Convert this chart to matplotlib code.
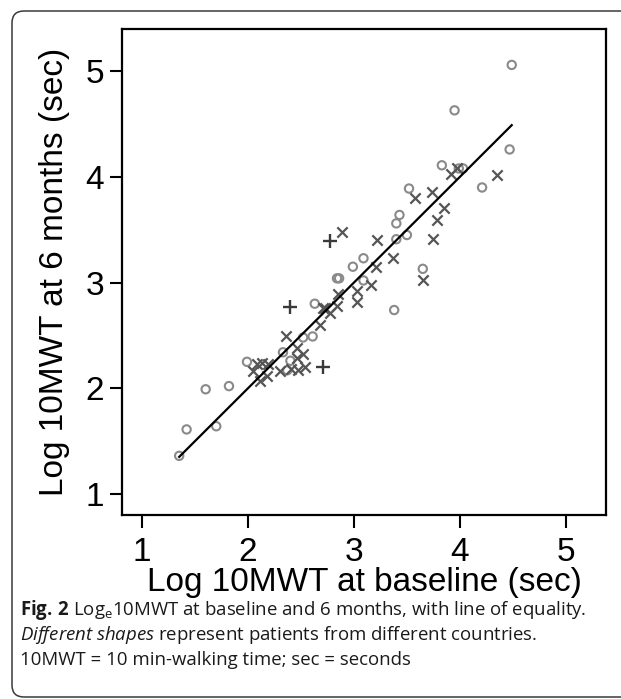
import numpy as np
import matplotlib
matplotlib.use("Agg")
import matplotlib.pyplot as plt
from matplotlib.patches import FancyBboxPatch

# Patients by country (three marker shapes), loge 10MWT baseline vs 6 months
circ_x = [1.35, 1.42, 1.70, 1.60, 1.82, 1.99, 2.33, 2.40, 2.37, 2.52, 2.61, 2.63,
          2.84, 2.86, 2.99, 3.09, 3.09, 3.38, 3.40, 3.40, 3.43, 3.50, 3.52, 3.65,
          3.83, 3.95, 3.99, 4.03, 4.21, 4.47, 4.49]
circ_y = [1.36, 1.61, 1.64, 1.99, 2.02, 2.25, 2.34, 2.26, 2.17, 2.48, 2.49, 2.80,
          3.04, 3.04, 3.15, 3.23, 3.02, 2.74, 3.41, 3.56, 3.64, 3.45, 3.89, 3.13,
          4.11, 4.63, 4.08, 4.08, 3.90, 4.26, 5.06]

cross_x = [2.05, 2.08, 2.13, 2.19, 2.11, 2.18, 2.30, 2.41, 2.47, 2.54, 2.46, 2.46,
           2.36, 2.52, 2.68, 2.71, 2.77, 2.84, 2.73, 2.85, 3.03, 3.03, 3.16, 2.89,
           3.21, 3.22, 3.37, 3.65, 3.75, 3.78, 3.85, 3.58, 3.74, 3.92, 3.97, 4.35]
cross_y = [2.16, 2.23, 2.24, 2.23, 2.07, 2.12, 2.16, 2.18, 2.17, 2.20, 2.29, 2.38,
           2.49, 2.32, 2.60, 2.76, 2.71, 2.78, 2.76, 2.89, 2.82, 2.92, 2.98, 3.48,
           3.15, 3.40, 3.23, 3.02, 3.41, 3.59, 3.71, 3.80, 3.86, 4.03, 4.08, 4.02]

plus_x = [2.40, 2.71, 2.77]
plus_y = [2.77, 2.20, 3.39]

ticks = [1, 2, 3, 4, 5]

plt.rcParams['mathtext.fontset'] = 'custom'
plt.rcParams['mathtext.rm'] = 'Open Sans'
plt.rcParams['mathtext.it'] = 'Open Sans:italic'
plt.rcParams['mathtext.bf'] = 'Open Sans:bold'

fig = plt.figure(figsize=(6.21, 6.99), dpi=100)
ax = fig.add_axes([122 / 621, 1 - 515 / 699, 484 / 621, 486 / 699])

ax.scatter(circ_x, circ_y, s=36, marker='o', facecolors='none',
           edgecolors='#8a8a8a', linewidths=1.5, zorder=3)
ax.scatter(cross_x, cross_y, s=55, marker='x', color='#555555',
           linewidths=1.6, zorder=3)
ax.scatter(plus_x, plus_y, s=95, marker='+', color='#3a3a3a',
           linewidths=1.7, zorder=3)

# line of equality over the range of the data
all_x = circ_x + cross_x + plus_x
line = np.array([min(all_x), max(all_x)])
ax.plot(line, line, color='black', lw=1.6, zorder=4)

ax.set_xlim(0.81, 5.38)
ax.set_ylim(0.80, 5.40)
ax.set_xticks(ticks)
ax.set_yticks(ticks)

axis_font = {'family': 'Liberation Sans', 'size': 24}
ax.set_xticklabels([str(t) for t in ticks], fontdict=axis_font)
ax.set_yticklabels([str(t) for t in ticks], fontdict=axis_font)
ax.tick_params(axis='both', direction='out', length=9, width=1.5, color='black')
ax.tick_params(axis='x', pad=7)
ax.tick_params(axis='y', pad=4)
for sp in ax.spines.values():
    sp.set_linewidth(1.6)

ax.set_xlabel('Log 10MWT at baseline (sec)', fontdict=axis_font, labelpad=-1)
ax.set_ylabel('Log 10MWT at 6 months (sec)', fontdict=axis_font, labelpad=11)

# rounded card around the figure
card = FancyBboxPatch((0.12, 0.02), 6.4, 6.86,
                      boxstyle='round,pad=0,rounding_size=0.12',
                      transform=fig.dpi_scale_trans, facecolor='none',
                      edgecolor='#3a3a3a', lw=1.1, clip_on=False)
fig.patches.append(card)

# caption
cap_size = 13.4
cap_color = '#1a1a1a'
fig.text(20 / 621, 1 - 615 / 699,
         r'$\mathbf{Fig.\,2}$ Log$_{\mathrm{e}}$10MWT at baseline and 6 months, with line of equality.',
         family='Open Sans', size=cap_size, va='baseline', color=cap_color)
fig.text(20 / 621, 1 - 640 / 699,
         r'$\mathit{Different\;shapes}$ represent patients from different countries.',
         family='Open Sans', size=cap_size, va='baseline', color=cap_color)
fig.text(20 / 621, 1 - 665 / 699, '10MWT = 10 min-walking time; sec = seconds',
         family='Open Sans', size=cap_size, va='baseline', color=cap_color)

fig.savefig('out.png', dpi=100)
